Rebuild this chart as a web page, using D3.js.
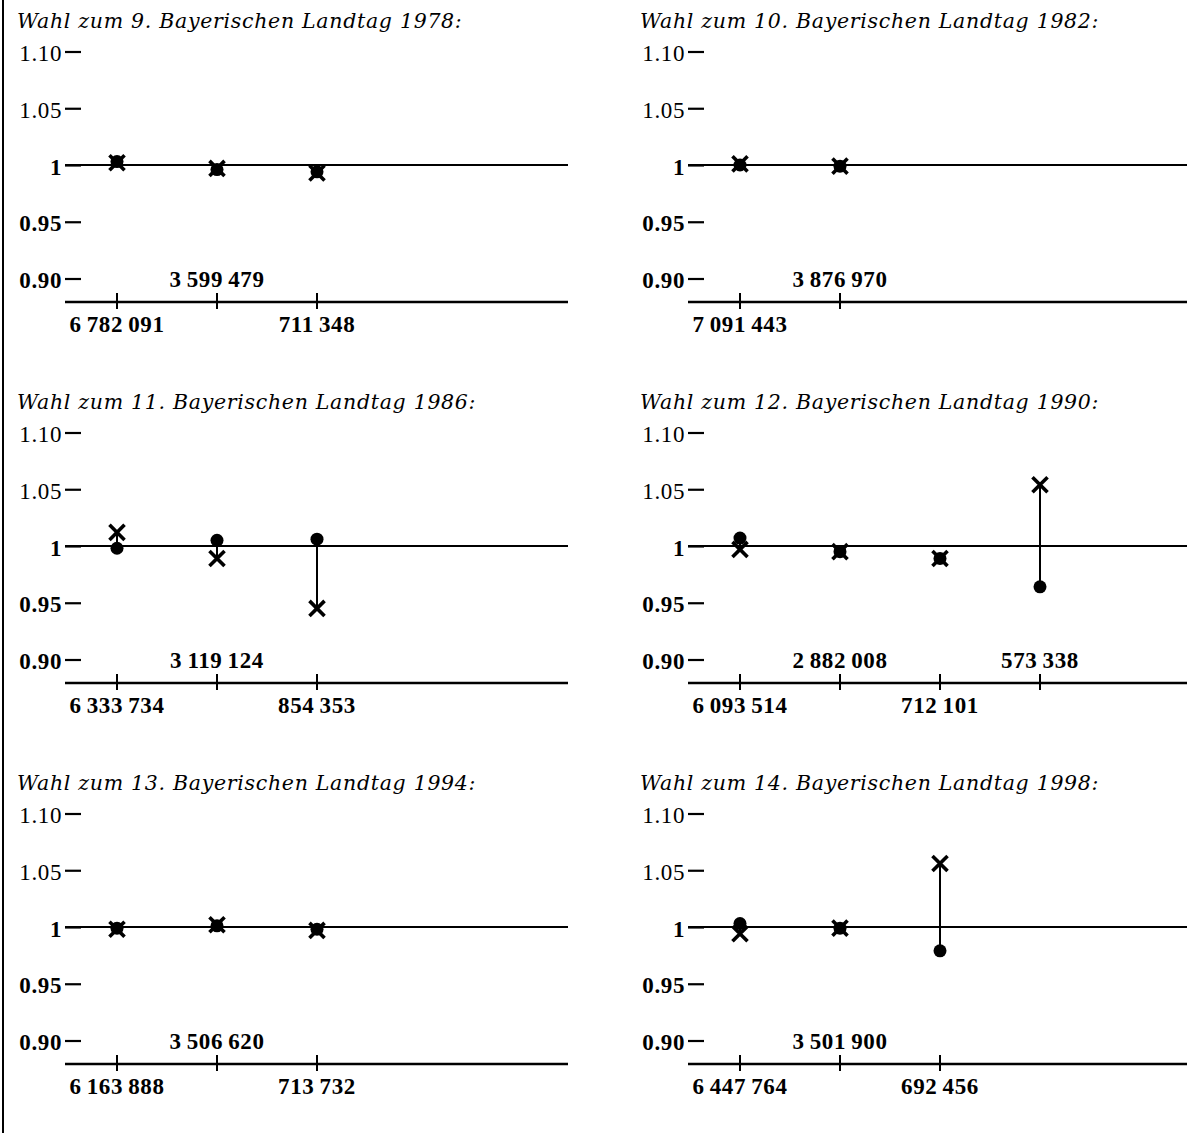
<!doctype html>
<html lang="de">
<head>
  <meta charset="utf-8">
  <title>Bayerische Landtagswahlen 1978-1998</title>
  <script src="https://d3js.org/d3.v7.min.js"></script>
  <style>
    body {
      margin: 0px;
      background: #fff;
    }
    svg {
      display: block;
    }
    .title {
      font-family: "DejaVu Serif", serif;
      font-style: italic;
      font-size: 20.5px;
      letter-spacing: 0.7px;
    }
    .num {
      font-family: "Liberation Serif", serif;
      font-weight: bold;
      font-size: 23px;
      letter-spacing: 0.6px;
    }
  </style>
</head>
<body>
  <div id="container"></div>

  <script>
    // one panel per election
    const titles = [
      "Wahl zum 9. Bayerischen Landtag 1978:",
      "Wahl zum 10. Bayerischen Landtag 1982:",
      "Wahl zum 11. Bayerischen Landtag 1986:",
      "Wahl zum 12. Bayerischen Landtag 1990:",
      "Wahl zum 13. Bayerischen Landtag 1994:",
      "Wahl zum 14. Bayerischen Landtag 1998:"
    ];

    // vote counts written under / over the ticks of the bottom axis
    const votes = [
      [6782091, 3599479, 711348],
      [7091443, 3876970],
      [6333734, 3119124, 854353],
      [6093514, 2882008, 712101, 573338],
      [6163888, 3506620, 713732],
      [6447764, 3501900, 692456]
    ];

    // ratio shown by the cross
    const crossValues = [
      [1.002, 0.997, 0.993],
      [1.001, 0.999],
      [1.012, 0.989, 0.945],
      [0.997, 0.995, 0.989, 1.054],
      [0.998, 1.002, 0.997],
      [0.994, 0.999, 1.056]
    ];

    // ratio shown by the dot
    const dotValues = [
      [1.003, 0.996, 0.994],
      [1.000, 0.999],
      [0.998, 1.005, 1.006],
      [1.007, 0.995, 0.989, 0.964],
      [0.999, 1.001, 0.998],
      [1.003, 0.999, 0.979]
    ];

    const yTicks = [0.90, 0.95, 1, 1.05, 1.10];
    const yTickLabels = ["0.90", "0.95", "1", "1.05", "1.10"];

    const width = 1187, height = 1135;
    const colStep = 623, rowStep = 381;

    const svg = d3.select("#container").append("svg")
      .attr("width", width)
      .attr("height", height);

    // page edge of the scan
    svg.append("line")
      .attr("x1", 3).attr("x2", 3)
      .attr("y1", 0).attr("y2", 1133)
      .attr("stroke", "#000")
      .attr("stroke-width", 2);

    const fmt = d3.formatLocale({
      decimal: ".",
      thousands: "\u2009",
      grouping: [3],
      currency: ["", ""]
    }).format(",d");

    function drawPanel(k) {
      const col = k % 2, row = Math.floor(k / 2);
      const x0 = 65 + col * colStep;
      const top = row * rowStep;

      const g = svg.append("g");

      const y = d3.scaleLinear()
        .domain([0.90, 1.10])
        .range([top + 278.5, top + 51.5]);

      const x = d3.scaleLinear()
        .domain([0, 4])
        .range([x0 + 52, x0 + 452]);

      // title
      g.append("text")
        .attr("class", "title")
        .attr("x", x0 - 48)
        .attr("y", top + 28)
        .text(titles[k]);

      // y axis: short dashes with labels
      const yAxis = d3.axisLeft(y)
        .tickValues(yTicks)
        .tickSize(16)
        .tickPadding(3)
        .tickFormat((d, i) => yTickLabels[i]);

      const ya = g.append("g")
        .attr("transform", "translate(" + (x0 + 16) + ",0)")
        .call(yAxis);
      ya.select(".domain").remove();
      ya.selectAll(".tick line")
        .attr("stroke", "#000")
        .attr("stroke-width", 2.2);
      ya.selectAll(".tick text")
        .attr("class", "num")
        .attr("fill", "#000")
        .attr("dy", "0.4em")
        .style("font-weight", d => d > 1 ? "normal" : "bold");

      // reference line at 1
      g.append("line")
        .attr("x1", x0).attr("x2", x(4.51))
        .attr("y1", y(1)).attr("y2", y(1))
        .attr("stroke", "#000")
        .attr("stroke-width", 2.2);

      // bottom axis
      const axisY = top + 302;
      g.append("line")
        .attr("x1", x0).attr("x2", x(4.51))
        .attr("y1", axisY).attr("y2", axisY)
        .attr("stroke", "#000")
        .attr("stroke-width", 2.6);

      const pts = votes[k].map((v, i) => ({
        i: i, v: v, cross: crossValues[k][i], dot: dotValues[k][i]
      }));

      g.selectAll(".xtick")
        .data(pts)
        .enter()
        .append("line")
        .attr("x1", d => x(d.i)).attr("x2", d => x(d.i))
        .attr("y1", axisY - 9).attr("y2", axisY + 7)
        .attr("stroke", "#000")
        .attr("stroke-width", 2);

      g.selectAll(".xlabel")
        .data(pts)
        .enter()
        .append("text")
        .attr("class", "num")
        .attr("text-anchor", "middle")
        .attr("x", d => x(d.i))
        .attr("y", d => d.i % 2 == 0 ? axisY + 30 : axisY - 15)
        .text(d => fmt(d.v));

      // connectors between dot and cross
      g.selectAll(".conn")
        .data(pts)
        .enter()
        .append("line")
        .attr("x1", d => x(d.i)).attr("x2", d => x(d.i))
        .attr("y1", d => y(d.dot)).attr("y2", d => y(d.cross))
        .attr("stroke", "#000")
        .attr("stroke-width", 2);

      g.selectAll(".dot")
        .data(pts)
        .enter()
        .append("path")
        .attr("d", d3.symbol(d3.symbolCircle, 133))
        .attr("transform", d => "translate(" + x(d.i) + "," + y(d.dot) + ")")
        .attr("fill", "#000");

      g.selectAll(".cross")
        .data(pts)
        .enter()
        .append("path")
        .attr("d", d3.symbol(d3.symbolTimes, 150))
        .attr("transform", d => "translate(" + x(d.i) + "," + y(d.cross) + ")")
        .attr("fill", "none")
        .attr("stroke", "#000")
        .attr("stroke-width", 3.6);
    }

    for (let k = 0; k < titles.length; k++) drawPanel(k);
  </script>
</body>
</html>
